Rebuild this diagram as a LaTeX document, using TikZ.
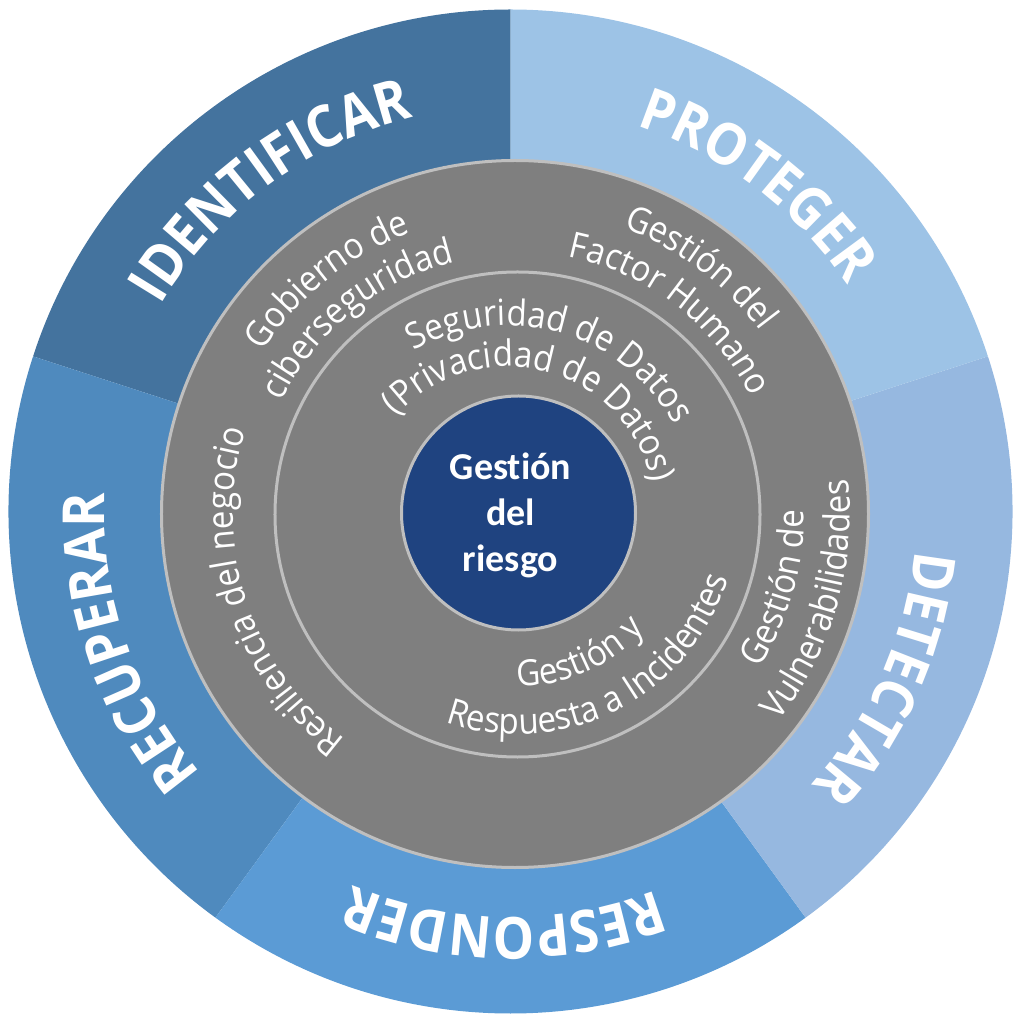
\documentclass[tikz,border=0pt]{standalone}
\usepackage{fontspec}
\usetikzlibrary{decorations.text}
\newfontfamily\phasefont{Open Sans}[FakeStretch=0.9]
\newfontfamily\ringfont{Open Sans}[FakeStretch=0.92]
\newfontfamily\corefont{Carlito}[Ligatures=NoCommon]

\definecolor{identcol}{HTML}{44739E}
\definecolor{recupcol}{HTML}{4F8ABE}
\definecolor{respcol}{HTML}{5B9BD5}
\definecolor{detcol}{HTML}{96B8E0}
\definecolor{protcol}{HTML}{9DC3E6}
\definecolor{ringgray}{HTML}{7F7F7F}
\definecolor{rimgray}{HTML}{BFBFBF}
\definecolor{corecol}{HTML}{1F4380}

\tikzset{
  phaselabel/.style={decorate, decoration={text along path, text align=center, text color=white,
      text={|\phasefont\bfseries\fontsize{58}{66}\selectfont|#1}}},
  arealabel/.style={decorate, decoration={text along path, text align=center, text color=white,
      text={|\ringfont\fontsize{36}{43}\selectfont|#1}}},
}

\begin{document}
\begin{tikzpicture}[x=1pt,y=1pt]
    \useasboundingbox (-515,-510) rectangle (505,514);
    \coordinate (O) at (-4.5,2.5);
    \coordinate (G) at (0,0);
    \coordinate (M) at (2.5,-0.5);
    \coordinate (S) at (-7.5,-0.5);
    \coordinate (C) at (3.5,1);

    % five phases
    \foreach \a/\col in {90/identcol, 162/recupcol, 234/respcol, 306/detcol, 18/protcol}
        \fill[\col] (O) -- ++(\a:502pt) arc[start angle=\a, delta angle=72, radius=502pt] -- cycle;

    \filldraw[fill=ringgray, draw=rimgray, line width=3pt] (G) circle[radius=353.5pt];
    \draw[rimgray, line width=3pt] (M) circle[radius=242.5pt];
    \filldraw[fill=corecol, draw=rimgray, line width=3pt] (C) circle[radius=117pt];

    % outer labels
    \path[shift={(O)}, phaselabel=IDENTIFICAR] (211.65:406pt) arc[start angle=211.65, delta angle=-170, radius=406pt];
    \path[shift={(O)}, phaselabel=PROTEGER] (137.9:406pt) arc[start angle=137.9, delta angle=-170, radius=406pt];
    \path[shift={(O)}, phaselabel=DETECTAR] (61.1:406pt) arc[start angle=61.1, delta angle=-170, radius=406pt];
    \path[shift={(O)}, phaselabel=RESPONDER] (354.1:406pt) arc[start angle=354.1, delta angle=-170, radius=406pt];
    \path[shift={(O)}, phaselabel=RECUPERAR] (283.8:406pt) arc[start angle=283.8, delta angle=-170, radius=406pt];

    % gray ring
    \path[shift={(G)}, arealabel=Gobierno de] (213.75:300pt) arc[start angle=213.75, delta angle=-170, radius=300pt];
    \path[shift={(G)}, arealabel=ciberseguridad] (213.8:259pt) arc[start angle=213.8, delta angle=-170, radius=259pt];
    \path[shift={(G)}, arealabel=Gestión del] (137.95:306pt) arc[start angle=137.95, delta angle=-170, radius=306pt];
    \path[shift={(G)}, arealabel=Factor Humano] (137.35:263pt) arc[start angle=137.35, delta angle=-170, radius=263pt];
    \path[shift={(G)}, arealabel=Resiliencia del negocio] (282.9:282pt) arc[start angle=282.9, delta angle=-170, radius=282pt];
    \path[shift={(G)}, arealabel=Gestión de] (-100.75:289pt) arc[start angle=-100.75, delta angle=170, radius=289pt];
    \path[shift={(G)}, arealabel=Vulnerabilidades] (-101.1:335pt) arc[start angle=-101.1, delta angle=170, radius=335pt];

    % inner ring
    \path[shift={(S)}, arealabel=Seguridad de Datos] (159:189pt) arc[start angle=159, delta angle=-170, radius=189pt];
    \path[shift={(S)}, arealabel=(Privacidad de Datos)] (160.35:148pt) arc[start angle=160.35, delta angle=-170, radius=148pt];
    \path[shift={(M)}, arealabel=Gestión y] (209:172pt) arc[start angle=209, delta angle=170, radius=172pt];
    \path[shift={(M)}, arealabel=Respuesta a Incidentes] (212:220pt) arc[start angle=212, delta angle=170, radius=220pt];

    \node[font=\corefont\bfseries\fontsize{38}{46}\selectfont, text=white, align=center] (core) at (-4.5,-1.5) {Gestión\\del\\riesgo};
\end{tikzpicture}
\end{document}
